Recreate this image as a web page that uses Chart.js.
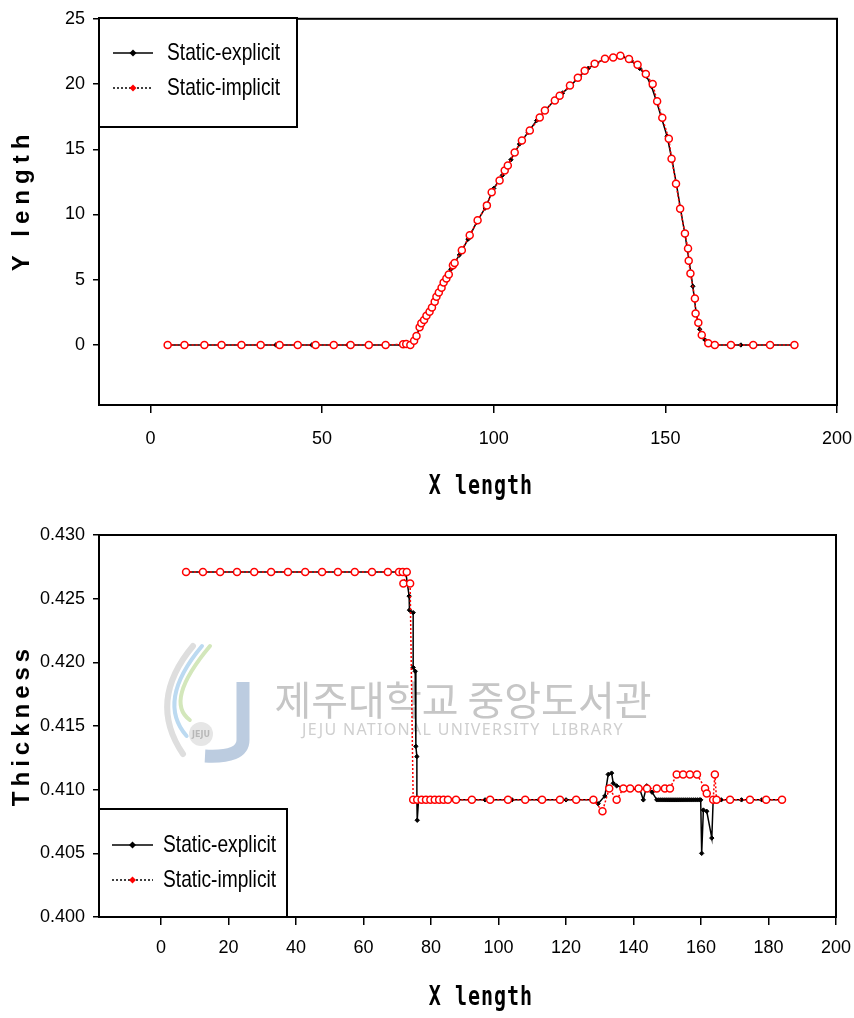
<!DOCTYPE html>
<html>
<head>
<meta charset="utf-8">
<script src="https://cdn.jsdelivr.net/npm/chart.js@4/dist/chart.umd.min.js"></script>
<style>
  html, body { margin: 0; padding: 0; background: #fff; }
  #wrap { position: relative; width: 854px; height: 1018px; }
  canvas { position: absolute; left: 0; }
  #profile { top: 0; }
  #thickness { top: 510px; }
</style>
</head>
<body>
<div id="wrap">
  <canvas id="profile" width="854" height="510"></canvas>
  <canvas id="thickness" width="854" height="508"></canvas>
</div>
<script>
const seriesNames = ["Static-explicit", "Static-implicit"];

// sheet profile: Y length against X length
const profileExplicitX = [5, 15.5, 26, 36.5, 47, 57.5, 68, 73, 75,
  76.2, 77.3, 79, 81, 83, 85, 87.5, 90, 92.5, 95, 97.5,
  100, 102.5, 105, 107.5, 110, 112.5, 115, 117.5, 120, 122.5, 125, 127.5,
  130, 132.5, 135, 137.5, 140, 142.5, 144.5, 146,
  147.5, 149, 150.5, 152, 153.3, 154.5, 155.7, 157, 158, 159, 160,
  161.5, 163, 165, 172, 180, 187.6];
const profileExplicitY = [0, 0, 0, 0, 0, 0, 0, 0, 0,
  0.1, 0.6, 1.7, 2.45, 3.45, 4.55, 5.8, 6.9, 8.1, 9.4, 10.5,
  12.0, 13.0, 14.2, 15.4, 16.3, 17.2, 18.0, 18.7, 19.3, 19.9, 20.6, 21.2,
  21.6, 21.95, 22.1, 22.1, 21.8, 21.2, 20.6, 19.8,
  18.6, 17.3, 16.0, 14.1, 12.2, 10.3, 8.5, 6.3, 4.5, 2.4, 1.2,
  0.4, 0.05, 0, 0, 0, 0];

const profileImplicitX = [5, 9.9, 15.7, 20.7, 26.5, 32.1, 37.6, 42.9, 48.1, 53.4, 58.3, 63.6, 68.5,
  73.6, 74.5, 75.7,
  76.8, 77.5, 78.4, 78.9, 79.7, 80.4, 81.3, 82.0, 82.8, 83.3,
  84.0, 84.8, 85.4, 86.2, 86.9, 88.1, 88.6,
  90.7, 93.0, 95.3, 98.0, 99.4, 101.7, 103.2, 104.1, 106.1, 108.2,
  110.5, 113.4, 114.9, 117.8, 119.2, 122.2, 124.5, 126.5, 129.4, 132.4,
  134.8, 136.9, 139.4, 141.9, 144.3, 146.3, 147.6, 149.1, 151.0, 151.8,
  153.1, 154.3, 155.7, 156.6, 156.8, 157.3, 158.6, 158.8, 159.6, 160.6,
  162.5, 164.4, 169.1, 175.6, 180.5, 187.6];
const profileImplicitY = [0, 0, 0, 0, 0, 0, 0, 0, 0, 0, 0, 0, 0,
  0.05, 0.08, 0,
  0.33, 0.69, 1.35, 1.66, 1.91, 2.24, 2.55, 2.88, 3.31, 3.69,
  4.03, 4.38, 4.79, 5.10, 5.41, 6.12, 6.29,
  7.26, 8.41, 9.56, 10.70, 11.70, 12.61, 13.38, 13.76, 14.76, 15.67,
  16.44, 17.43, 17.97, 18.73, 19.11, 19.88, 20.49, 21.02, 21.56, 21.94,
  22.04, 22.17, 21.92, 21.48, 20.77, 20.0, 18.68, 17.41, 15.80, 14.27,
  12.36, 10.45, 8.54, 7.39, 6.45, 5.48, 3.57, 2.42, 1.71, 0.76,
  0.13, 0, 0, 0, 0, 0];

// thickness along X length
const thickExplicitX = [7.4, 17.5, 27.6, 37.6, 47.7, 57.4, 67.2, 72.5,
  73.5, 73.6, 74.7, 74.7, 75.3, 75.5, 75.8, 75.8, 75.9, 76.3,
  80, 88, 96, 104, 112, 120, 128.1,
  129.5, 131.5, 132.5, 133.5, 134.0, 135.0, 138.0, 141.9, 142.9, 143.9, 145.5, 146.9,
  147.5, 148.1, 148.7, 149.3, 149.9, 150.5, 151.1, 151.7, 152.3, 152.9, 153.5,
  154.1, 154.7, 155.3, 155.9, 156.5, 157.1, 157.7, 158.3, 158.9, 159.5, 159.9,
  160.2, 160.7, 161.7, 163.2, 163.6,
  166, 172, 178, 184];
const thickExplicitY = [0.4271, 0.4271, 0.4271, 0.4271, 0.4271, 0.4271, 0.4271, 0.4271,
  0.4252, 0.4241, 0.4239, 0.4196, 0.4193, 0.4134, 0.4126, 0.4093, 0.4076, 0.4092,
  0.4092, 0.4092, 0.4092, 0.4092, 0.4092, 0.4092, 0.4092,
  0.4089, 0.4095, 0.4112, 0.4113, 0.4105, 0.4103, 0.4101, 0.4100, 0.4092, 0.4103, 0.4098, 0.4092,
  0.4092, 0.4092, 0.4092, 0.4092, 0.4092, 0.4092, 0.4092, 0.4092, 0.4092, 0.4092, 0.4092,
  0.4092, 0.4092, 0.4092, 0.4092, 0.4092, 0.4092, 0.4092, 0.4092, 0.4092, 0.4092, 0.4092,
  0.4050, 0.4084, 0.4083, 0.4062, 0.4092,
  0.4092, 0.4092, 0.4092, 0.4092];

const thickImplicitX = [7.4, 12.4, 17.5, 22.5, 27.6, 32.6, 37.6, 42.7, 47.7, 52.4,
  57.4, 62.5, 67.2, 70.5, 71.6, 72.8,
  71.8, 73.8,
  74.7, 75.9, 77.2, 78.5, 79.8, 81.1, 82.4, 83.7, 85.0, 87.4,
  92.1, 97.5, 102.8, 107.9, 112.9, 118.2, 123.0, 128.1,
  130.8, 132.8, 135.0, 137.0, 139.0, 141.5, 144.0, 146.9, 149.3, 150.8,
  152.8, 154.7, 156.7, 158.8, 161.2, 161.7, 163.6, 164.1, 164.6, 168.6,
  174.5, 179.3, 184.0];
const thickImplicitY = [0.4271, 0.4271, 0.4271, 0.4271, 0.4271, 0.4271, 0.4271, 0.4271, 0.4271, 0.4271,
  0.4271, 0.4271, 0.4271, 0.4271, 0.4271, 0.4271,
  0.4262, 0.4262,
  0.4092, 0.4092, 0.4092, 0.4092, 0.4092, 0.4092, 0.4092, 0.4092, 0.4092, 0.4092,
  0.4092, 0.4092, 0.4092, 0.4092, 0.4092, 0.4092, 0.4092, 0.4092,
  0.4083, 0.4101, 0.4092, 0.4101, 0.4101, 0.4101, 0.4101, 0.4101, 0.4101, 0.4101,
  0.4112, 0.4112, 0.4112, 0.4112, 0.4101, 0.4097, 0.4092, 0.4112, 0.4092, 0.4092,
  0.4092, 0.4092, 0.4092];

const profileXTicks = [0, 50, 100, 150, 200];
const profileYTicks = [0, 5, 10, 15, 20, 25];
const thickXTicks = [0, 20, 40, 60, 80, 100, 120, 140, 160, 180, 200];
const thickYTicks = [0.400, 0.405, 0.410, 0.415, 0.420, 0.425, 0.430];

const sans = '"Liberation Sans", Arial, sans-serif';

const toPoints = (xs, ys) => xs.map((x, i) => ({ x: x, y: ys[i] }));

function drawWatermark(ctx, w) {
  ctx.save();
  ctx.lineCap = "round";
  // sweeping stripes of the emblem
  const stripes = [["#dedede", 6, 0], ["#bcdaf1", 4, 9], ["#d3e7bb", 4, 17]];
  stripes.forEach(([colour, width, off]) => {
    ctx.strokeStyle = colour;
    ctx.lineWidth = width;
    ctx.beginPath();
    ctx.moveTo(w.logoX + 28 + off, w.logoY);
    ctx.quadraticCurveTo(w.logoX - 18 + off, w.logoY + 55, w.logoX + 18 + off * 0.4, w.logoY + 108 - off * 2);
    ctx.stroke();
  });
  // the J
  ctx.strokeStyle = "#bccce0";
  ctx.lineWidth = 13;
  ctx.lineCap = "butt";
  ctx.beginPath();
  ctx.moveTo(w.logoX + 78, w.logoY + 36);
  ctx.lineTo(w.logoX + 78, w.logoY + 94);
  ctx.quadraticCurveTo(w.logoX + 78, w.logoY + 112, w.logoX + 40, w.logoY + 110);
  ctx.stroke();
  // small round badge
  ctx.fillStyle = "#e6e6e6";
  ctx.beginPath();
  ctx.arc(w.logoX + 36, w.logoY + 88, 12, 0, Math.PI * 2);
  ctx.fill();
  ctx.fillStyle = "#b8b8b8";
  ctx.font = 'bold 8px "DejaVu Sans"';
  ctx.textAlign = "center";
  ctx.textBaseline = "middle";
  ctx.fillText("JEJU", w.logoX + 36, w.logoY + 89);

  ctx.fillStyle = "#c6c6c6";
  ctx.font = '40px "Noto Sans CJK KR"';
  ctx.fillText("제주대학교 중앙도서관", w.textX, w.koY);
  ctx.fillStyle = "#cfcfcf";
  ctx.font = '16px "Noto Sans"';
  ctx.letterSpacing = "1.3px";
  ctx.fillText("JEJU NATIONAL UNIVERSITY  LIBRARY", w.textX, w.enY);
  ctx.restore();
}

// frame, axis titles, boxed legend and the library mark
const decor = {
  id: "decor",
  beforeDatasetsDraw(chart, args, opts) {
    if (opts.watermark) drawWatermark(chart.ctx, opts.watermark);
  },
  afterDraw(chart, args, opts) {
    const ctx = chart.ctx;
    const a = chart.chartArea;
    ctx.save();
    ctx.strokeStyle = "#000";
    ctx.lineWidth = 2;
    ctx.strokeRect(a.left, a.top, a.right - a.left, a.bottom - a.top);

    ctx.fillStyle = "#000";
    ctx.textAlign = "center";
    ctx.textBaseline = "middle";

    // x title, tall monospace
    ctx.save();
    ctx.translate(opts.xTitle.x, opts.xTitle.y);
    ctx.scale(1, 1.3);
    ctx.font = 'bold 20px "DejaVu Sans Mono"';
    ctx.letterSpacing = "1px";
    ctx.fillText(opts.xTitle.text, 0, 0);
    ctx.restore();

    // y title, rotated
    ctx.save();
    ctx.translate(opts.yTitle.x, opts.yTitle.y);
    ctx.rotate(-Math.PI / 2);
    ctx.font = "bold 24px " + sans;
    ctx.letterSpacing = opts.yTitle.spacing;
    ctx.fillText(opts.yTitle.text, 0, 0);
    ctx.restore();

    // legend box
    const lg = opts.legend;
    ctx.fillStyle = "#fff";
    ctx.fillRect(lg.x, lg.y, lg.w, lg.h);
    ctx.lineWidth = 2;
    ctx.strokeRect(lg.x, lg.y, lg.w, lg.h);
    chart.data.datasets.forEach((ds, i) => {
      const ry = lg.rowY[i];
      ctx.strokeStyle = "#000";
      ctx.lineWidth = 1.5;
      ctx.setLineDash(ds.borderDash || []);
      ctx.beginPath();
      ctx.moveTo(lg.lineX[0], ry);
      ctx.lineTo(lg.lineX[1], ry);
      ctx.stroke();
      ctx.setLineDash([]);
      const cx = (lg.lineX[0] + lg.lineX[1]) / 2;
      ctx.fillStyle = ds.borderColor;
      ctx.beginPath();
      ctx.moveTo(cx, ry - 3.5);
      ctx.lineTo(cx + 3.5, ry);
      ctx.lineTo(cx, ry + 3.5);
      ctx.lineTo(cx - 3.5, ry);
      ctx.closePath();
      ctx.fill();
      // condensed label text
      ctx.save();
      ctx.translate(lg.textX, ry);
      ctx.scale(0.8, 1);
      ctx.fillStyle = "#000";
      ctx.textAlign = "left";
      ctx.font = "24px " + sans;
      ctx.fillText(ds.label, 0, 0);
      ctx.restore();
    });
    ctx.restore();
  }
};

function plotCurves(canvasId, cfg) {
  const fixTicks = values => scale => { scale.ticks = values.map(v => ({ value: v })); };
  return new Chart(document.getElementById(canvasId), {
    type: "scatter",
    data: {
      datasets: [
        {
          label: seriesNames[0],
          data: toPoints(cfg.explicitX, cfg.explicitY),
          showLine: true,
          order: 2,
          borderColor: "#000",
          borderWidth: 1.5,
          pointStyle: "rectRot",
          pointRadius: 2.2,
          pointBackgroundColor: "#000",
          pointBorderColor: "#000",
          pointBorderWidth: 1
        },
        {
          label: seriesNames[1],
          data: toPoints(cfg.implicitX, cfg.implicitY),
          showLine: true,
          order: 1,
          borderColor: "#ff0000",
          borderWidth: 1.5,
          borderDash: [2, 2],
          pointStyle: "circle",
          pointRadius: 3.5,
          pointBackgroundColor: "#fff",
          pointBorderColor: "#ff0000",
          pointBorderWidth: 1.5
        }
      ]
    },
    options: {
      responsive: false,
      animation: false,
      devicePixelRatio: 1,
      layout: { padding: { top: cfg.padTop, right: cfg.padRight, left: 0, bottom: 0 } },
      plugins: {
        legend: { display: false },
        tooltip: { enabled: false },
        decor: cfg.decor
      },
      scales: {
        x: {
          type: "linear",
          min: cfg.xMin,
          max: cfg.xMax,
          afterBuildTicks: fixTicks(cfg.xTicks),
          afterFit: scale => {
            scale.height = cfg.xAxisHeight;
            // the "200" label may hang past the frame; the layout padding covers it
            scale.paddingLeft = 0;
            scale.paddingRight = 0;
          },
          grid: { drawOnChartArea: false, color: "#000", lineWidth: 1.5, tickLength: 8 },
          border: { color: "#000", width: 2 },
          ticks: {
            color: "#000",
            font: { family: sans, size: 18 },
            padding: cfg.xPad,
            autoSkip: false,
            maxRotation: 0,
            callback: v => String(v)
          }
        },
        y: {
          type: "linear",
          min: cfg.yMin,
          max: cfg.yMax,
          afterBuildTicks: fixTicks(cfg.yTicks),
          afterFit: scale => { scale.width = 99; },
          grid: { drawOnChartArea: false, color: "#000", lineWidth: 1.5, tickLength: 6 },
          border: { color: "#000", width: 2 },
          ticks: {
            color: "#000",
            font: { family: sans, size: 18 },
            padding: 8,
            autoSkip: false,
            callback: cfg.yFormat
          }
        }
      }
    },
    plugins: [decor]
  });
}

plotCurves("profile", {
  explicitX: profileExplicitX, explicitY: profileExplicitY,
  implicitX: profileImplicitX, implicitY: profileImplicitY,
  xMin: -15, xMax: 200, yMin: -4.6, yMax: 25,
  xTicks: profileXTicks, yTicks: profileYTicks,
  padTop: 18, padRight: 17, xAxisHeight: 105, xPad: 15,
  yFormat: v => String(v),
  decor: {
    xTitle: { text: "X length", x: 481, y: 487 },
    yTitle: { text: "Y length", x: 22, y: 200, spacing: "6px" },
    legend: { x: 99, y: 18, w: 198, h: 109, rowY: [53, 88], lineX: [113, 153], textX: 167 }
  }
});

plotCurves("thickness", {
  explicitX: thickExplicitX, explicitY: thickExplicitY,
  implicitX: thickImplicitX, implicitY: thickImplicitY,
  xMin: -18.4, xMax: 200, yMin: 0.400, yMax: 0.430,
  xTicks: thickXTicks, yTicks: thickYTicks,
  padTop: 25, padRight: 18, xAxisHeight: 101, xPad: 12,
  yFormat: v => v.toFixed(3),
  decor: {
    xTitle: { text: "X length", x: 481, y: 488 },
    yTitle: { text: "Thickness", x: 22, y: 215, spacing: "5px" },
    legend: { x: 99, y: 299, w: 188, h: 108, rowY: [335, 370], lineX: [112, 153], textX: 163 },
    watermark: { logoX: 165, logoY: 136, textX: 463, koY: 190, enY: 220 }
  }
});
</script>
</body>
</html>
